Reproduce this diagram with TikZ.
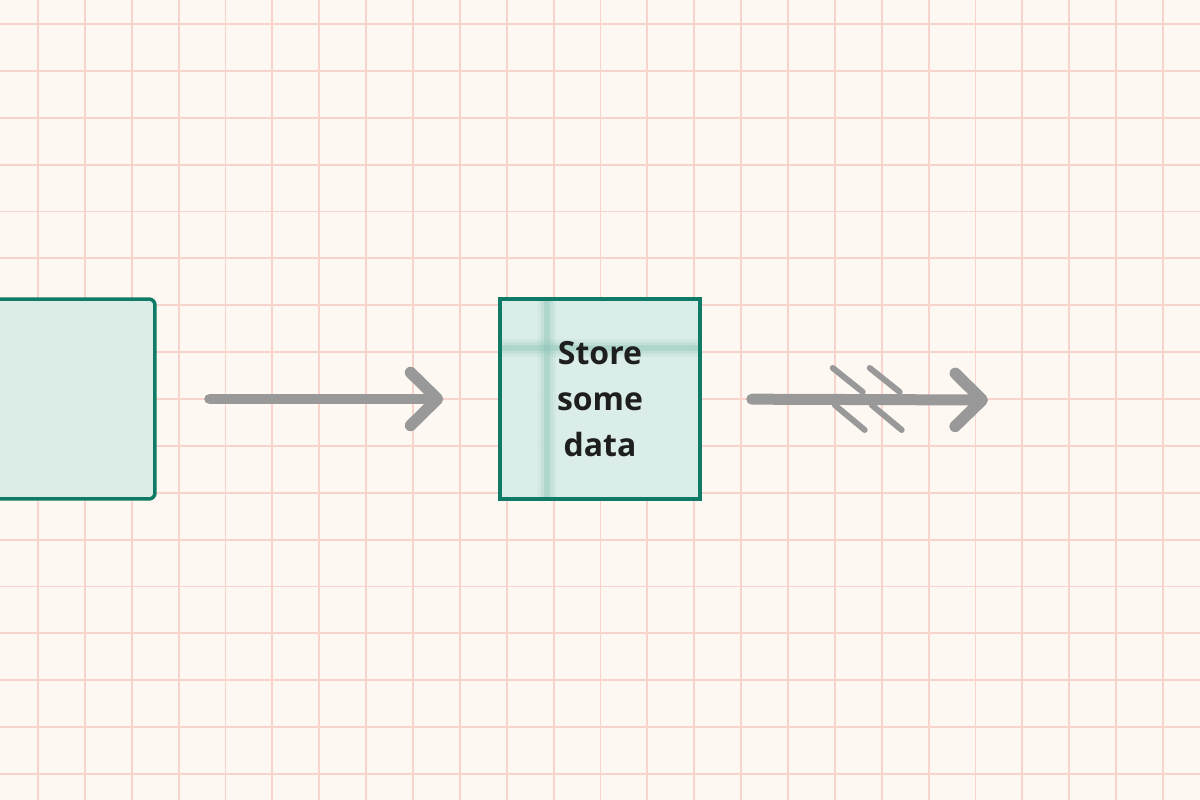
\documentclass[tikz,border=0pt]{standalone}
\usepackage{fontspec}
\setsansfont{Open Sans}
\usetikzlibrary{arrows.meta}
\definecolor{paper}{HTML}{FEF8F2}
\definecolor{gridred}{HTML}{F9D4CC}
\definecolor{boxline}{HTML}{0F7A65}
\definecolor{boxfill}{HTML}{DAEDE8}
\definecolor{glassband}{HTML}{8CC4B7}
\definecolor{flowgrey}{HTML}{999999}
\definecolor{inkdark}{HTML}{1E1E1E}
\begin{document}
\begin{tikzpicture}[x=0.02cm,y=-0.02cm]
	% size of each box
	\def\sz{4cm}
	\def\gap{46.875}
	% style definition
	\tikzstyle{gridline} = [gridred, line width=0.036cm];
	\tikzstyle{box} = [draw=boxline, line width=0.07cm, fill=boxfill, rectangle, minimum height=\sz, minimum width=\sz, inner sep=0pt];
	\tikzstyle{flow} = [flowgrey, line width=0.22cm, line cap=round, -{Straight Barb[length=0.54cm, width=1.06cm, line width=0.23cm, round]}];
	\tikzstyle{feather} = [flowgrey, line width=0.12cm, line cap=round];
	\tikzstyle{label} = [font=\sffamily\bfseries\fontsize{18.2}{26}\selectfont, text=inkdark, align=center];
	% paper and grid
	\fill[paper] (0,0) rectangle (1200,800);
	\useasboundingbox (0,0) rectangle (1200,800);
	\clip (0,0) rectangle (1200,800);
	\foreach \i in {0,...,24}
		\draw[gridline] (38+\gap*\i,0) -- (38+\gap*\i,800);
	\foreach \j in {0,...,16}
		\draw[gridline] (0,24+\gap*\j) -- (1200,24+\gap*\j);
	% boxes
	\node[box, rounded corners=0.12cm, fill opacity=0.94, draw opacity=1] (prev) at (55,399) {};
	\node[box, fill opacity=0.97, text opacity=1, label,
		path picture={
			\foreach \w/\o in {0.36cm/0.12, 0.24cm/0.2, 0.12cm/0.35}{
				\draw[glassband, line width=\w, opacity=\o] ([xshift=0.94cm]path picture bounding box.north west) -- ([xshift=0.94cm]path picture bounding box.south west);
				\draw[glassband, line width=\w, opacity=\o] ([yshift=-0.98cm]path picture bounding box.north west) -- ([yshift=-0.98cm]path picture bounding box.north east);
			}
		}] (store) at (600,399) {Store\\some\\data};
	% connectors
	\coordinate (sink) at (988,400);
	\draw[flow, shorten <=1.06cm, shorten >=1.1cm] (prev.east) -- (store.west);
	\draw[flow, shorten <=1cm] (store.east) -- (sink);
%	\draw[flow] (store.east) -- (sink);
	\foreach \dx in {0,37} {
		\draw[feather] ([shift={(131+\dx,-31)}]store.east) -- ([shift={(161+\dx,-7)}]store.east);
		\draw[feather] ([shift={(133+\dx,6)}]store.east) -- ([shift={(163+\dx,31)}]store.east);
	}
\end{tikzpicture}
\end{document}
